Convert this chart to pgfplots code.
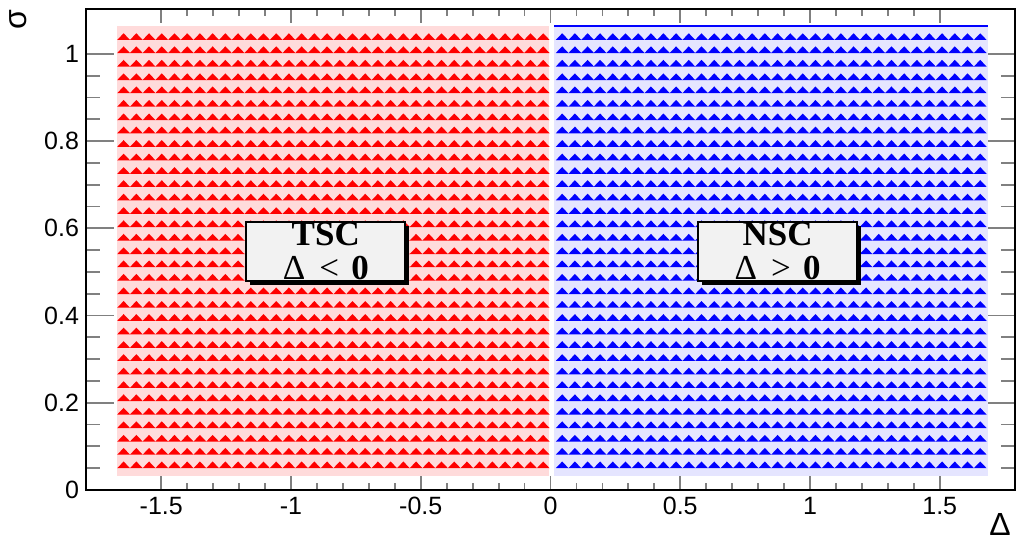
\documentclass[border=0pt]{standalone}
\usepackage{fontspec}
\setmainfont{Liberation Sans}
\newfontfamily\boxfont{Liberation Serif}
\usepackage{pgfplots}
\pgfplotsset{compat=1.18}
\usepackage{pgfplotstable}
\usetikzlibrary{shadows}

% wide flat triangle, base on the point
\pgfdeclareplotmark{tri}{%
  \pgfpathmoveto{\pgfpoint{-3.2pt}{0pt}}%
  \pgfpathlineto{\pgfpoint{3.2pt}{0pt}}%
  \pgfpathlineto{\pgfpoint{0pt}{3.35pt}}%
  \pgfpathclose\pgfusepathqfill}

\pgfplotstableread{
x
-1.645
-1.596
-1.547
-1.498
-1.449
-1.400
-1.351
-1.302
-1.253
-1.204
-1.155
-1.106
-1.057
-1.008
-0.959
-0.910
-0.861
-0.812
-0.763
-0.714
-0.665
-0.616
-0.567
-0.518
-0.469
-0.420
-0.371
-0.322
-0.273
-0.224
-0.175
-0.126
-0.077
-0.028
}\tscx

\pgfplotstableread{
x
0.045
0.094
0.143
0.191
0.240
0.289
0.338
0.387
0.435
0.484
0.533
0.582
0.631
0.680
0.728
0.777
0.826
0.875
0.924
0.972
1.021
1.070
1.119
1.168
1.216
1.265
1.314
1.363
1.412
1.460
1.509
1.558
1.607
1.656
}\nscx

\tikzset{regionbox/.style={draw=black, line width=0.9pt, fill=black!5,
  minimum width=79.5pt, minimum height=29.5pt, inner sep=0pt, align=center,
  font=\boxfont\fontsize{17.5}{18.5}\selectfont,
  drop shadow={shadow xshift=2pt, shadow yshift=-2pt, fill=black, opacity=1}}}

\begin{document}
\begin{tikzpicture}
\useasboundingbox (0,0) rectangle (508.5pt,270.5pt);
\begin{axis}[
  at={(43pt,25.5pt)}, anchor=south west,
  scale only axis,
  width=464.5pt, height=240.5pt,
  xmin=-1.79, xmax=1.79,
  ymin=0, ymax=1.103,
  axis line style={line width=1pt},
  tick align=inside,
  xtick={-1.5,-1,...,1.5},
  ytick={0,0.2,...,1},
  minor x tick num=4,
  minor y tick num=3,
  xtick style={line width=0.9pt, /pgfplots/major tick length=7pt, /pgfplots/minor tick length=3.5pt},
  ytick style={line width=0.9pt, /pgfplots/major tick length=14pt, /pgfplots/minor tick length=7pt},
  ticklabel style={font=\fontsize{12.5}{14}\selectfont},
  /pgf/number format/assume math mode=true,
  xlabel={Δ},
  ylabel={σ},
  xlabel style={at={(rel axis cs:0.984,-0.071)}, anchor=center, font=\fontsize{16}{18}\selectfont},
  ylabel style={at={(rel axis cs:-0.073,0.978)}, anchor=center, font=\fontsize{16}{18}\selectfont},
]
% light backgrounds of the two regions
\addplot[draw=none, fill=red!14] coordinates {(-1.67,0.032) (-0.006,0.032) (-0.006,1.063) (-1.67,1.063)} -- cycle;
\addplot[draw=none, fill=blue!10] coordinates {(0.015,0.032) (1.685,0.032) (1.685,1.063) (0.015,1.063)} -- cycle;
\addplot[blue, line width=0.8pt] coordinates {(0.015,1.064) (1.685,1.064)};

\pgfplotsinvokeforeach{0.050,0.081,0.111,0.142,0.173,0.204,0.234,0.265,0.296,0.326,0.357,0.388,0.418,0.449,0.480,0.511,0.541,0.572,0.603,0.633,0.664,0.695,0.725,0.756,0.787,0.818,0.848,0.879,0.910,0.940,0.971,1.002,1.032}{
  \addplot[only marks, mark=tri, color=red] table[x index=0, y index=0, y expr=#1] {\tscx};
  \addplot[only marks, mark=tri, color=blue] table[x index=0, y index=0, y expr=#1] {\nscx};
}

\coordinate (tsc) at (axis cs:-0.866,0.547);
\coordinate (nsc) at (axis cs:0.875,0.547);
\end{axis}
\node[regionbox] at (tsc) {\textbf{TSC}\\[-1.5pt]Δ\hspace{0.15em} < \hspace{0.1em}\textbf{0}};
\node[regionbox] at (nsc) {\textbf{NSC}\\[-1.5pt]Δ\hspace{0.15em} > \hspace{0.1em}\textbf{0}};
\end{tikzpicture}
\end{document}
